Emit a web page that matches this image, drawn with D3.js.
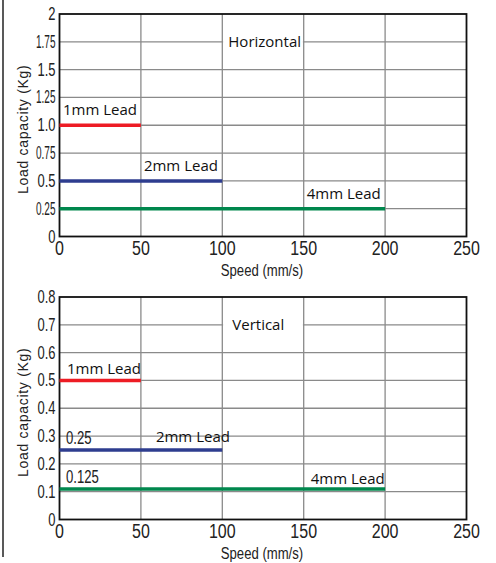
<!DOCTYPE html>
<html>
<head>
<meta charset="utf-8">
<script src="https://cdn.jsdelivr.net/npm/d3@7"></script>
<style>
  body { margin: 0; background: #fff; }
  svg { display: block; }
  .tick-lbl { font-family: "Liberation Sans", Arial, sans-serif; fill: #222; }
  .ser-lbl { font-family: "Open Sans", sans-serif; font-size: 15px; fill: #111; }
</style>
</head>
<body>
<div id="chart-area"></div>
<script>

var total_width = 496;
var total_height = 563;

// data
var speedTicks = [0, 50, 100, 150, 200, 250];
var leads = ['1mm Lead', '2mm Lead', '4mm Lead'];
var maxSpeed = [50, 100, 200];
var colors = ['#ed1c24', '#2e3d8f', '#00874d'];

var horizLoad = [1.0, 0.5, 0.25];
var horizTicks = [0, 0.25, 0.5, 0.75, 1.0, 1.25, 1.5, 1.75, 2];
var horizTickLabels = ['0', '0.25', '0.5', '0.75', '1.0', '1.25', '1.5', '1.75', '2'];

var vertLoad = [0.5, 0.25, 0.11];
var vertTicks = [0, 0.1, 0.2, 0.3, 0.4, 0.5, 0.6, 0.7, 0.8];
var vertTickLabels = ['0', '0.1', '0.2', '0.3', '0.4', '0.5', '0.6', '0.7', '0.8'];
var vertNotes = ['', '0.25', '0.125'];

var svg = d3.select('#chart-area').append('svg')
            .attr("width", total_width)
            .attr("height", total_height);

// left frame line
svg.append('line')
   .attr("x1", 3).attr("x2", 3)
   .attr("y1", 0).attr("y2", 557)
   .attr("stroke", "#222").attr("stroke-width", 1.5);

var x = d3.scaleLinear().domain([0, 250]).range([59.5, 466.5]);

// squeezed text (the source uses a condensed face)
function narrow(sel, px, py, size, sx) {
  return sel.append('text').attr("class", "tick-lbl")
            .attr("font-size", size + "px")
            .attr("transform", "translate(" + px + "," + py + ") scale(" + sx + ",1)");
}

var panels = [
  {top: 14, bottom: 236.5, ymax: 2, ticks: horizTicks, labels: horizTickLabels,
   load: horizLoad, notes: null, title: 'Horizontal', titleX: 6,
   lblX: [0, 50, 150], lblDx: [3.5, 3, 3], lblDy: [-10, -9.5, -10]},
  {top: 297, bottom: 519.5, ymax: 0.8, ticks: vertTicks, labels: vertTickLabels,
   load: vertLoad, notes: vertNotes, title: 'Vertical', titleX: 10,
   lblX: [0, 50, 150], lblDx: [7.5, 15, 7], lblDy: [-6, -8, -5]}
];

panels.forEach(function(p){

  var y = d3.scaleLinear().domain([0, p.ymax]).range([p.bottom, p.top]);
  var g = svg.append('g');

  // grid
  g.selectAll('.hgrid').data(p.ticks.slice(1, -1)).enter().append('line')
   .attr("x1", x(0)).attr("x2", x(250))
   .attr("y1", (d) => y(d)).attr("y2", (d) => y(d))
   .attr("stroke", "#8a8a8a").attr("stroke-width", 1.3);
  g.selectAll('.vgrid').data(speedTicks.slice(1, -1)).enter().append('line')
   .attr("x1", (d) => x(d)).attr("x2", (d) => x(d))
   .attr("y1", p.top).attr("y2", p.bottom)
   .attr("stroke", "#8a8a8a").attr("stroke-width", 1.3);

  // white box behind panel title, hides one gridline between 100 and 150
  g.append('rect')
   .attr("x", x(100) + 0.8).attr("y", p.top + 1)
   .attr("width", x(150) - x(100) - 1.6)
   .attr("height", y(p.ticks[6]) - p.top - 2)
   .attr("fill", "#fff");
  g.append('text').attr("class", "ser-lbl")
   .attr("font-size", "14.5px")
   .attr("x", x(100) + p.titleX).attr("y", y(p.ticks[7]) + 5)
   .text(p.title);

  // frame
  g.append('rect')
   .attr("x", x(0)).attr("y", p.top)
   .attr("width", x(250) - x(0)).attr("height", p.bottom - p.top)
   .attr("fill", "none").attr("stroke", "#111").attr("stroke-width", 1.8);

  // series lines
  g.selectAll('.ser').data(leads).enter().append('line')
   .attr("x1", x(0)).attr("x2", (d, i) => x(maxSpeed[i]))
   .attr("y1", (d, i) => y(p.load[i])).attr("y2", (d, i) => y(p.load[i]))
   .attr("stroke", (d, i) => colors[i]).attr("stroke-width", 3.5);

  g.selectAll('.serlbl').data(leads).enter().append('text')
   .attr("class", "ser-lbl")
   .attr("x", (d, i) => x(p.lblX[i]) + p.lblDx[i])
   .attr("y", (d, i) => y(p.load[i]) + p.lblDy[i])
   .text((d) => d);

  if (p.notes) {
    p.notes.forEach(function(n, i){
      if (!n) return;
      narrow(g, x(0) + 6.5, y(p.load[i]) - 6, 18, 0.73).text(n);
    });
  }

  // y tick labels
  p.ticks.forEach(function(t, i){
    var lbl = narrow(g, 55.5, y(t) + 6, 18, 0.72)
                .attr("text-anchor", "end")
                .text(p.labels[i]);
    var w = lbl.node().getComputedTextLength() * 0.72;
    if (w > 19.5) {
      lbl.attr("textLength", 19.5 / 0.72).attr("lengthAdjust", "spacingAndGlyphs");
    }
  });

  // x tick labels
  speedTicks.forEach(function(t){
    narrow(g, x(t), p.bottom + 18, 20, 0.8)
      .attr("text-anchor", "middle")
      .text(t);
  });

  narrow(g, 262, p.bottom + 39, 16, 0.82)
    .attr("text-anchor", "middle")
    .text('Speed (mm/s)');

  g.append('text').attr("class", "tick-lbl")
   .attr("font-size", "14px")
   .attr("letter-spacing", "0.7px")
   .attr("text-anchor", "middle")
   .attr("transform", "translate(" + 27.5 + "," + ((p.top + p.bottom) / 2 + 4) + ") rotate(-90)")
   .text('Load capacity (Kg)');
});

</script>
</body>
</html>
